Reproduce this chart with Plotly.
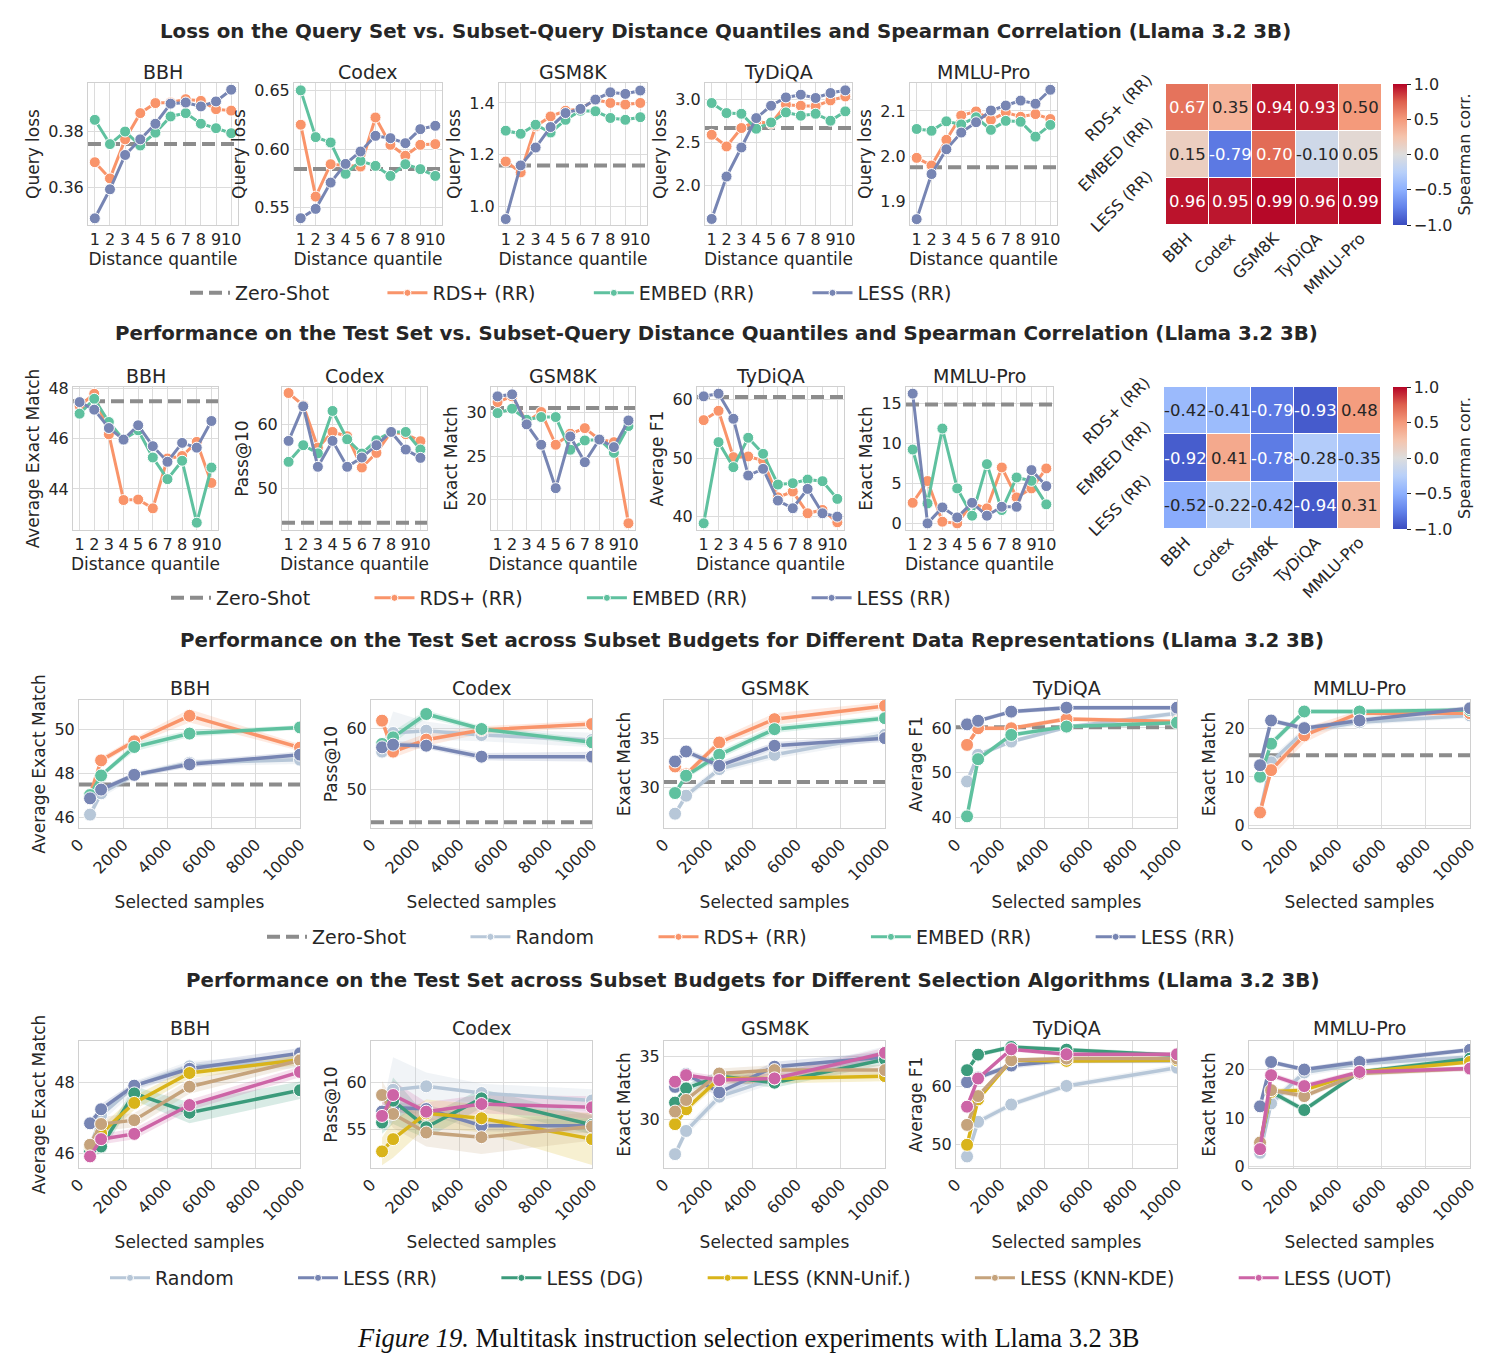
import plotly.graph_objects as go

W, H = 1500, 1369
FONT = "DejaVu Sans"
TXT = "#262626"
GRID = "#dcdcdc"
FRAME = "#d0d0d0"

TASKS = ["BBH", "Codex", "GSM8K", "TyDiQA", "MMLU-Pro"]
METHODS = ["RDS+ (RR)", "EMBED (RR)", "LESS (RR)"]
QUANTILES = [1, 2, 3, 4, 5, 6, 7, 8, 9, 10]
BUDGETS = [500, 1000, 2500, 5000, 10000]

# ---------------- Row 1: query loss vs distance quantile ----------------
loss_bbh_rds = [0.369, 0.3632, 0.3772, 0.3866, 0.3902, 0.3904, 0.3916, 0.391, 0.388, 0.3875]
loss_bbh_embed = [0.3842, 0.3755, 0.380, 0.375, 0.3796, 0.3854, 0.3866, 0.3828, 0.3812, 0.3794]
loss_bbh_less = [0.3489, 0.3593, 0.3716, 0.3772, 0.3828, 0.390, 0.3904, 0.389, 0.3908, 0.395]
loss_codex_rds = [0.6209, 0.5594, 0.5871, 0.5860, 0.5851, 0.6271, 0.6037, 0.5943, 0.6037, 0.6043]
loss_codex_embed = [0.6503, 0.6103, 0.6057, 0.5789, 0.590, 0.5857, 0.5771, 0.5871, 0.5829, 0.5771]
loss_codex_less = [0.5409, 0.5489, 0.5714, 0.5874, 0.598, 0.6114, 0.6094, 0.6051, 0.6171, 0.620]
loss_gsm_rds = [1.174, 1.132, 1.31, 1.348, 1.37, 1.377, 1.413, 1.40, 1.394, 1.40]
loss_gsm_embed = [1.293, 1.281, 1.316, 1.286, 1.335, 1.37, 1.368, 1.342, 1.335, 1.345]
loss_gsm_less = [0.952, 1.159, 1.228, 1.307, 1.361, 1.377, 1.413, 1.441, 1.435, 1.448]
loss_tydi_rds = [2.59, 2.453, 2.669, 2.747, 2.72, 2.943, 2.931, 2.925, 2.994, 3.04]
loss_tydi_embed = [2.963, 2.845, 2.837, 2.661, 2.735, 2.853, 2.814, 2.837, 2.755, 2.865]
loss_tydi_less = [1.602, 2.10, 2.441, 2.786, 2.931, 3.029, 3.061, 3.022, 3.08, 3.112]
loss_mmlu_rds = [1.996, 1.979, 2.036, 2.09, 2.099, 2.08, 2.097, 2.087, 2.093, 2.082]
loss_mmlu_embed = [2.06, 2.056, 2.077, 2.07, 2.086, 2.058, 2.078, 2.076, 2.043, 2.069]
loss_mmlu_less = [1.86, 1.96, 2.015, 2.052, 2.075, 2.101, 2.112, 2.123, 2.116, 2.147]
loss_zero_shot = [0.3755, 0.5831, 1.159, 2.669, 1.975]

corr_loss_rds = [0.67, 0.35, 0.94, 0.93, 0.50]
corr_loss_embed = [0.15, -0.79, 0.70, -0.10, 0.05]
corr_loss_less = [0.96, 0.95, 0.99, 0.96, 0.99]

# ---------------- Row 2: test performance vs distance quantile ----------------
perf_bbh_rds = [47.3, 47.78, 46.17, 43.56, 43.58, 43.23, 45.21, 45.31, 45.87, 44.24]
perf_bbh_embed = [46.99, 47.58, 46.66, 45.96, 46.33, 45.25, 44.39, 45.12, 42.66, 44.85]
perf_bbh_less = [47.45, 47.15, 46.42, 45.96, 46.53, 45.70, 45.08, 45.83, 45.64, 46.70]
perf_codex_rds = [64.95, 63.0, 56.4, 58.85, 58.18, 53.28, 55.57, 58.85, 58.5, 57.4]
perf_codex_embed = [54.17, 56.77, 55.5, 62.14, 57.7, 55.47, 57.55, 58.85, 58.85, 56.1]
perf_codex_less = [57.45, 62.86, 53.39, 57.45, 53.39, 54.84, 56.77, 58.85, 56.1, 54.79]
perf_gsm_rds = [31.18, 31.83, 28.9, 30.04, 26.3, 27.56, 28.2, 26.9, 26.6, 17.33]
perf_gsm_embed = [29.92, 30.42, 29.16, 29.47, 29.47, 25.73, 26.79, 26.9, 25.38, 28.44]
perf_gsm_less = [31.83, 32.06, 28.63, 26.3, 21.34, 27.25, 24.31, 26.9, 26.03, 29.08]
perf_tydi_rds = [56.5, 58.1, 50.17, 50.29, 49.6, 43.31, 44.29, 40.57, 41.14, 39.03]
perf_tydi_embed = [38.86, 52.74, 48.46, 53.49, 50.74, 45.49, 45.71, 46.34, 46.06, 43.03]
perf_tydi_less = [60.57, 61.03, 56.74, 47.03, 48.17, 42.74, 41.43, 44.74, 40.57, 40.0]
perf_mmlu_rds = [2.58, 5.3, 0.21, 0.0, 2.5, 1.88, 7.0, 3.25, 4.38, 6.88]
perf_mmlu_embed = [9.25, 2.5, 11.88, 4.38, 0.96, 7.42, 1.67, 5.75, 5.33, 2.38]
perf_mmlu_less = [16.25, 0.0, 2.0, 0.75, 2.58, 0.96, 2.08, 2.08, 6.67, 4.67]
perf_zero_shot = [47.48, 44.64, 30.5, 60.46, 14.88]

corr_perf_rds = [-0.42, -0.41, -0.79, -0.93, 0.48]
corr_perf_embed = [-0.92, 0.41, -0.78, -0.28, -0.35]
corr_perf_less = [-0.52, -0.22, -0.42, -0.94, 0.31]

# ---------------- Row 3: budgets, data representations ----------------
bud_bbh_rand = [46.11, 47.08, 47.9, 48.47, 48.61]
bud_bbh_rds = [47.0, 48.58, 49.45, 50.61, 49.16]
bud_bbh_embed = [47.0, 47.89, 49.19, 49.8, 50.08]
bud_bbh_less = [46.85, 47.25, 47.92, 48.4, 48.84]
bud_codex_rand = [56.2, 59.24, 59.62, 58.9, 58.1]
bud_codex_rds = [61.25, 56.2, 58.15, 59.73, 60.7]
bud_codex_embed = [57.45, 58.53, 62.34, 59.89, 57.72]
bud_codex_less = [56.9, 57.34, 57.17, 55.38, 55.38]
bud_gsm_rand = [27.28, 29.12, 31.84, 33.3, 35.34]
bud_gsm_rds = [32.11, 31.3, 34.56, 36.94, 38.3]
bud_gsm_embed = [29.39, 31.16, 33.3, 35.92, 37.04]
bud_gsm_less = [32.62, 33.64, 32.18, 34.22, 35.0]
bud_tydi_rand = [47.99, 53.96, 56.94, 60.15, 63.28]
bud_tydi_rds = [56.19, 59.93, 59.93, 62.01, 61.42]
bud_tydi_embed = [40.15, 52.99, 58.43, 60.3, 61.19]
bud_tydi_less = [60.8, 61.6, 63.66, 64.55, 64.55]
bud_mmlu_rand = [2.8, 13.0, 19.4, 21.2, 22.6]
bud_mmlu_rds = [2.71, 11.39, 18.5, 23.1, 23.05]
bud_mmlu_embed = [10.03, 16.8, 23.4, 23.4, 23.7]
bud_mmlu_less = [12.4, 21.56, 20.0, 21.56, 24.07]
bud_zero_shot = [47.48, 44.67, 30.51, 60.15, 14.44]

# confidence half-widths (row 3)
ci_bbh_rand = [0.2, 0.2, 0.15, 0.15, 0.2]
ci_bbh_rds = [0.1, 0.15, 0.15, 0.3, 0.15]
ci_bbh_embed = [0.1, 0.1, 0.2, 0.15, 0.1]
ci_bbh_less = [0.1, 0.15, 0.1, 0.15, 0.15]
ci_codex_rand = [1.0, 3.5, 1.5, 1.0, 1.2]
ci_codex_rds = [0.6, 1.0, 1.0, 0.6, 0.6]
ci_codex_embed = [0.6, 1.0, 0.6, 0.5, 0.6]
ci_codex_less = [0.6, 0.6, 0.5, 0.6, 0.8]
ci_gsm_rand = [0.3, 0.4, 0.4, 0.4, 0.5]
ci_gsm_rds = [0.3, 0.3, 0.4, 0.6, 0.4]
ci_gsm_embed = [0.3, 0.3, 0.4, 0.4, 0.3]
ci_gsm_less = [0.3, 0.3, 0.4, 0.4, 0.4]
ci_tydi_rand = [0.6, 0.6, 0.5, 0.5, 0.6]
ci_tydi_rds = [0.5, 0.5, 0.5, 0.5, 0.5]
ci_tydi_embed = [0.6, 0.6, 0.5, 0.5, 0.5]
ci_tydi_less = [0.5, 0.5, 0.5, 0.5, 0.5]
ci_mmlu_rand = [0.5, 1.0, 0.8, 0.6, 0.6]
ci_mmlu_rds = [0.5, 1.5, 1.5, 0.6, 0.6]
ci_mmlu_embed = [0.5, 0.8, 0.5, 0.5, 0.5]
ci_mmlu_less = [0.5, 0.5, 0.5, 0.6, 0.5]

# ---------------- Row 4: budgets, selection algorithms ----------------
alg_bbh_dg = [46.05, 46.19, 47.7, 47.15, 47.79]
alg_bbh_unif = [46.2, 46.57, 47.43, 48.28, 48.66]
alg_bbh_kde = [46.24, 46.83, 46.94, 47.89, 48.64]
alg_bbh_uot = [45.91, 46.4, 46.55, 47.37, 48.31]
alg_codex_dg = [55.71, 58.07, 55.21, 58.32, 55.46]
alg_codex_unif = [52.61, 53.93, 56.71, 56.18, 53.93]
alg_codex_kde = [58.68, 56.64, 54.64, 54.14, 55.29]
alg_codex_uot = [56.43, 58.68, 56.89, 57.71, 57.36]
alg_gsm_dg = [31.37, 32.5, 33.47, 32.95, 34.79]
alg_gsm_unif = [29.66, 30.84, 33.29, 33.29, 33.47]
alg_gsm_kde = [30.66, 31.58, 33.68, 33.95, 33.95]
alg_gsm_uot = [33.03, 33.55, 33.16, 33.29, 35.32]
alg_tydi_dg = [62.86, 65.54, 66.86, 66.4, 65.43]
alg_tydi_unif = [50.0, 57.83, 64.57, 64.46, 64.57]
alg_tydi_kde = [53.43, 58.4, 64.57, 64.86, 64.86]
alg_tydi_uot = [56.57, 61.43, 66.46, 65.6, 65.6]
alg_mmlu_dg = [4.5, 15.4, 11.64, 19.5, 22.26]
alg_mmlu_unif = [4.8, 15.4, 15.75, 19.5, 21.58]
alg_mmlu_kde = [4.93, 15.75, 14.52, 19.18, 20.2]
alg_mmlu_uot = [3.56, 18.84, 16.58, 19.5, 20.2]

ci_bbh_dg = [0.15, 0.2, 0.2, 0.3, 0.25]
ci_bbh_unif = [0.15, 0.2, 0.2, 0.15, 0.15]
ci_bbh_kde = [0.15, 0.2, 0.2, 0.2, 0.15]
ci_bbh_uot = [0.1, 0.15, 0.15, 0.15, 0.15]
ci_codex_dg = [1.2, 2.5, 1.2, 1.0, 1.0]
ci_codex_unif = [1.5, 2.0, 1.5, 1.5, 2.8]
ci_codex_kde = [1.5, 1.5, 1.5, 1.8, 1.5]
ci_codex_uot = [1.5, 1.5, 1.0, 1.0, 1.2]
ci_gsm_dg = [0.3, 0.3, 0.4, 0.4, 0.4]
ci_gsm_unif = [0.3, 0.3, 0.4, 0.4, 0.4]
ci_gsm_kde = [0.3, 0.3, 0.4, 0.4, 0.4]
ci_gsm_uot = [0.3, 0.3, 0.3, 0.4, 0.4]
ci_tydi_dg = [0.4, 0.4, 0.4, 0.4, 0.4]
ci_tydi_unif = [0.5, 0.5, 0.4, 0.4, 0.4]
ci_tydi_kde = [0.5, 0.5, 0.4, 0.4, 0.4]
ci_tydi_uot = [0.5, 0.4, 0.4, 0.4, 0.4]
ci_mmlu_dg = [0.5, 0.6, 0.6, 0.5, 0.5]
ci_mmlu_unif = [0.5, 0.6, 0.6, 0.5, 0.5]
ci_mmlu_kde = [0.5, 0.6, 0.6, 0.5, 0.5]
ci_mmlu_uot = [0.5, 0.6, 0.6, 0.5, 0.5]

# ---------------- styles ----------------
C_RDS = "#f9946a"
C_EMBED = "#5fc19f"
C_LESS = "#7785b3"
C_RAND = "#b7c7d8"
C_DG = "#3b9b7b"
C_UNIF = "#d9b41a"
C_KDE = "#c5a37c"
C_UOT = "#cd64a6"
C_ZS = "#8c8c8c"
ZS_DASH = "13px,6px"

COOLWARM = [[0.0, "#3b4cc0"], [0.125, "#6282ea"], [0.25, "#8db0fe"], [0.375, "#b8d0f9"],
            [0.5, "#dddddd"], [0.625, "#f5c4ad"], [0.75, "#f49a7b"], [0.875, "#de604d"],
            [1.0, "#b40426"]]


def rgba(hexc, a):
    r, g, b = int(hexc[1:3], 16), int(hexc[3:5], 16), int(hexc[5:7], 16)
    return f"rgba({r},{g},{b},{a})"


layout = {}
traces = []
annotations = []
counter = [0]


def dom_x(a, b):
    return [a / W, b / W]


def dom_y(top, bottom):
    return [1 - bottom / H, 1 - top / H]


def axis_style(**kw):
    d = dict(showgrid=True, gridcolor=GRID, gridwidth=1, zeroline=False, showline=True,
             mirror=True, linecolor=FRAME, linewidth=1, ticks="",
             tickfont=dict(size=16, color=TXT, family=FONT))
    d.update(kw)
    return d


def new_axes(xbox, ybox, xopts, yopts):
    counter[0] += 1
    n = counter[0]
    s = "" if n == 1 else str(n)
    layout["xaxis" + s] = dict(domain=dom_x(*xbox), anchor="y" + s, **xopts)
    layout["yaxis" + s] = dict(domain=dom_y(*ybox), anchor="x" + s, **yopts)
    return "x" + s, "y" + s


def paper_text(text, xpx, ypx, size, bold=False, family=FONT, color=TXT):
    annotations.append(dict(text=f"<b>{text}</b>" if bold else text, x=xpx / W, y=1 - ypx / H,
                            xref="paper", yref="paper", xanchor="center", yanchor="middle",
                            showarrow=False, font=dict(size=size, family=family, color=color)))


def line_panel(xbox, ybox, title_y, title, xvals, series, zero, xr, yr, ytv, ytf, ytitle,
               xtitle, xtv, xtt, xta, msize, lw, xstand):
    xa, ya = new_axes(
        xbox, ybox,
        axis_style(range=xr, tickvals=xtv, ticktext=xtt, tickangle=xta,
                   title=dict(text=xtitle, font=dict(size=17, color=TXT, family=FONT), standoff=xstand)),
        axis_style(range=yr, tickvals=ytv, tickformat=ytf,
                   title=dict(text=ytitle, font=dict(size=17, color=TXT, family=FONT), standoff=4)))
    paper_text(title, (xbox[0] + xbox[1]) / 2, title_y, 19)
    if zero is not None:
        traces.append(go.Scatter(x=list(xr), y=[zero, zero], mode="lines", name="Zero-Shot",
                                 line=dict(color=C_ZS, width=4, dash=ZS_DASH), xaxis=xa, yaxis=ya,
                                 showlegend=False, hoverinfo="skip"))
    for name, vals, color, ci in series:
        if ci is not None:
            traces.append(go.Scatter(x=xvals, y=[v + c for v, c in zip(vals, ci)], mode="lines",
                                     line=dict(width=0, color=color), xaxis=xa, yaxis=ya,
                                     showlegend=False, hoverinfo="skip"))
            traces.append(go.Scatter(x=xvals, y=[v - c for v, c in zip(vals, ci)], mode="lines",
                                     line=dict(width=0, color=color), fill="tonexty",
                                     fillcolor=rgba(color, 0.2), xaxis=xa, yaxis=ya,
                                     showlegend=False, hoverinfo="skip"))
    for name, vals, color, ci in series:
        traces.append(go.Scatter(x=xvals, y=vals, mode="lines+markers", name=name,
                                 line=dict(color=color, width=lw),
                                 marker=dict(size=msize, color=color, line=dict(color="white", width=1)),
                                 xaxis=xa, yaxis=ya, showlegend=False))


def heat_panel(xbox, ybox, rows, cb_top, cb_bottom):
    cols_idx = list(range(len(TASKS)))
    rows_idx = list(range(len(METHODS)))
    xa, ya = new_axes(
        xbox, ybox,
        dict(range=[-0.5, len(TASKS) - 0.5], tickvals=cols_idx, ticktext=TASKS, showgrid=False,
             zeroline=False, showline=False, ticks="", tickangle=-45,
             tickfont=dict(size=16, color=TXT, family=FONT)),
        dict(range=[len(METHODS) - 0.5, -0.5], tickvals=rows_idx, showticklabels=False,
             showgrid=False, zeroline=False, showline=False, ticks=""))
    traces.append(go.Heatmap(
        z=rows, x=cols_idx, y=rows_idx, xaxis=xa, yaxis=ya, colorscale=COOLWARM, zmin=-1, zmax=1,
        xgap=1, ygap=1, hoverinfo="skip",
        colorbar=dict(x=1393 / W, xanchor="left", xpad=0, ypad=0,
                      y=1 - (cb_top + cb_bottom) / 2 / H, yanchor="middle",
                      len=(cb_bottom - cb_top) / H, lenmode="fraction", thickness=14,
                      outlinewidth=0, tickvals=[-1, -0.5, 0, 0.5, 1],
                      ticktext=["\u22121.0", "\u22120.5", "0.0", "0.5", "1.0"], ticks="outside",
                      ticklen=4, tickcolor=TXT, tickfont=dict(size=16, color=TXT, family=FONT),
                      title=dict(text="Spearman corr.", side="right",
                                 font=dict(size=16, color=TXT, family=FONT)))))
    # row labels, rotated 45 degrees, right edge next to the heatmap, centred on each row
    for i in rows_idx:
        annotations.append(dict(x=(xbox[0] - 7) / W, xref="paper", y=i, yref=ya, text=METHODS[i],
                                textangle=-45, xanchor="right", yanchor="middle", showarrow=False,
                                font=dict(size=16, color=TXT, family=FONT)))
    for i in rows_idx:
        for j in cols_idx:
            v = rows[i][j]
            annotations.append(dict(x=j, y=i, xref=xa, yref=ya, text=f"{v:.2f}", showarrow=False,
                                    font=dict(size=16.5, family=FONT,
                                              color="white" if abs(v) > 0.6 else TXT)))


# ---------------- Row 1 ----------------
R1_X = [(88, 238), (294, 442), (499, 647), (705, 852), (910, 1057)]
R1_Y = (83, 225)
loss_rds = [loss_bbh_rds, loss_codex_rds, loss_gsm_rds, loss_tydi_rds, loss_mmlu_rds]
loss_embed = [loss_bbh_embed, loss_codex_embed, loss_gsm_embed, loss_tydi_embed, loss_mmlu_embed]
loss_less = [loss_bbh_less, loss_codex_less, loss_gsm_less, loss_tydi_less, loss_mmlu_less]
R1_YR = [[0.3465, 0.3974], [0.5351, 0.6566], [0.929, 1.477], [1.531, 3.198], [1.847, 2.162]]
R1_TV = [[0.36, 0.38], [0.55, 0.60, 0.65], [1.0, 1.2, 1.4], [2.0, 2.5, 3.0], [1.9, 2.0, 2.1]]
R1_TF = [".2f", ".2f", ".1f", ".1f", ".1f"]
Q_TEXT = [str(q) for q in QUANTILES]
for k in range(5):
    line_panel(R1_X[k], R1_Y, 72, TASKS[k], QUANTILES,
               [("RDS+ (RR)", loss_rds[k], C_RDS, None), ("EMBED (RR)", loss_embed[k], C_EMBED, None),
                ("LESS (RR)", loss_less[k], C_LESS, None)],
               loss_zero_shot[k], [0.55, 10.45], R1_YR[k], R1_TV[k], R1_TF[k], "Query loss",
               "Distance quantile", QUANTILES, Q_TEXT, 0, 11, 3, 2)
heat_panel((1166, 1382), (84, 225), [corr_loss_rds, corr_loss_embed, corr_loss_less], 84, 225)

# ---------------- Row 2 ----------------
R2_X = [(73, 218), (282, 427), (491, 635), (697, 844), (906, 1053)]
R2_Y = (387, 530)
perf_rds = [perf_bbh_rds, perf_codex_rds, perf_gsm_rds, perf_tydi_rds, perf_mmlu_rds]
perf_embed = [perf_bbh_embed, perf_codex_embed, perf_gsm_embed, perf_tydi_embed, perf_mmlu_embed]
perf_less = [perf_bbh_less, perf_codex_less, perf_gsm_less, perf_tydi_less, perf_mmlu_less]
R2_YR = [[42.37, 48.05], [43.49, 65.89], [16.56, 32.9], [37.71, 62.17], [-0.83, 17.08]]
R2_TV = [[44, 46, 48], [50, 60], [20, 25, 30], [40, 50, 60], [0, 5, 10, 15]]
METRICS = ["Average Exact Match", "Pass@10", "Exact Match", "Average F1", "Exact Match"]
for k in range(5):
    line_panel(R2_X[k], R2_Y, 376, TASKS[k], QUANTILES,
               [("RDS+ (RR)", perf_rds[k], C_RDS, None), ("EMBED (RR)", perf_embed[k], C_EMBED, None),
                ("LESS (RR)", perf_less[k], C_LESS, None)],
               perf_zero_shot[k], [0.55, 10.45], R2_YR[k], R2_TV[k], "d", METRICS[k],
               "Distance quantile", QUANTILES, Q_TEXT, 0, 11, 3, 2)
heat_panel((1164, 1381), (387, 529), [corr_perf_rds, corr_perf_embed, corr_perf_less], 387, 529)

# ---------------- Row 3 ----------------
R34_X = [(79, 300), (371, 592), (664, 885), (956, 1177), (1249, 1470)]
R3_Y = (700, 828)
bud_rand = [bud_bbh_rand, bud_codex_rand, bud_gsm_rand, bud_tydi_rand, bud_mmlu_rand]
bud_rds = [bud_bbh_rds, bud_codex_rds, bud_gsm_rds, bud_tydi_rds, bud_mmlu_rds]
bud_embed = [bud_bbh_embed, bud_codex_embed, bud_gsm_embed, bud_tydi_embed, bud_mmlu_embed]
bud_less = [bud_bbh_less, bud_codex_less, bud_gsm_less, bud_tydi_less, bud_mmlu_less]
ci_rand = [ci_bbh_rand, ci_codex_rand, ci_gsm_rand, ci_tydi_rand, ci_mmlu_rand]
ci_rds = [ci_bbh_rds, ci_codex_rds, ci_gsm_rds, ci_tydi_rds, ci_mmlu_rds]
ci_embed = [ci_bbh_embed, ci_codex_embed, ci_gsm_embed, ci_tydi_embed, ci_mmlu_embed]
ci_less = [ci_bbh_less, ci_codex_less, ci_gsm_less, ci_tydi_less, ci_mmlu_less]
R3_YR = [[45.5, 51.33], [43.75, 64.62], [25.82, 38.9], [37.54, 66.27], [-0.47, 25.76]]
R3_TV = [[46, 48, 50], [50, 60], [30, 35], [40, 50, 60], [0, 10, 20]]
BUD_TICKS = [0, 2000, 4000, 6000, 8000, 10000]
BUD_TEXT = [str(t) for t in BUD_TICKS]
for k in range(5):
    line_panel(R34_X[k], R3_Y, 688, TASKS[k], BUDGETS,
               [("Random", bud_rand[k], C_RAND, ci_rand[k]), ("RDS+ (RR)", bud_rds[k], C_RDS, ci_rds[k]),
                ("EMBED (RR)", bud_embed[k], C_EMBED, ci_embed[k]),
                ("LESS (RR)", bud_less[k], C_LESS, ci_less[k])],
               bud_zero_shot[k], [0, 10000], R3_YR[k], R3_TV[k], "d", METRICS[k],
               "Selected samples", BUD_TICKS, BUD_TEXT, -45, 13, 3.5, 12)

# ---------------- Row 4 ----------------
R4_Y = (1041, 1168)
alg_dg = [alg_bbh_dg, alg_codex_dg, alg_gsm_dg, alg_tydi_dg, alg_mmlu_dg]
alg_unif = [alg_bbh_unif, alg_codex_unif, alg_gsm_unif, alg_tydi_unif, alg_mmlu_unif]
alg_kde = [alg_bbh_kde, alg_codex_kde, alg_gsm_kde, alg_tydi_kde, alg_mmlu_kde]
alg_uot = [alg_bbh_uot, alg_codex_uot, alg_gsm_uot, alg_tydi_uot, alg_mmlu_uot]
ci_dg = [ci_bbh_dg, ci_codex_dg, ci_gsm_dg, ci_tydi_dg, ci_mmlu_dg]
ci_unif = [ci_bbh_unif, ci_codex_unif, ci_gsm_unif, ci_tydi_unif, ci_mmlu_unif]
ci_kde = [ci_bbh_kde, ci_codex_kde, ci_gsm_kde, ci_tydi_kde, ci_mmlu_kde]
ci_uot = [ci_bbh_uot, ci_codex_uot, ci_gsm_uot, ci_tydi_uot, ci_mmlu_uot]
R4_YR = [[45.58, 49.19], [50.82, 64.5], [26.18, 36.26], [46.0, 67.89], [-0.34, 25.9]]
R4_TV = [[46, 48], [55, 60], [30, 35], [50, 60], [0, 10, 20]]
for k in range(5):
    line_panel(R34_X[k], R4_Y, 1028, TASKS[k], BUDGETS,
               [("Random", bud_rand[k], C_RAND, ci_rand[k]), ("LESS (RR)", bud_less[k], C_LESS, ci_less[k]),
                ("LESS (DG)", alg_dg[k], C_DG, ci_dg[k]),
                ("LESS (KNN-Unif.)", alg_unif[k], C_UNIF, ci_unif[k]),
                ("LESS (KNN-KDE)", alg_kde[k], C_KDE, ci_kde[k]),
                ("LESS (UOT)", alg_uot[k], C_UOT, ci_uot[k])],
               None, [0, 10000], R4_YR[k], R4_TV[k], "d", METRICS[k],
               "Selected samples", BUD_TICKS, BUD_TEXT, -45, 13, 3.5, 12)

# ---------------- Legends (legend-only entries) ----------------
LEGEND_PAD = {"legend": 8, "legend2": 9, "legend3": 9, "legend4": 9}


def legend_entry(name, color, legend, dashed=False, last=False):
    label = name if last else name + "\u00a0" * LEGEND_PAD[legend]
    if dashed:
        traces.append(go.Scatter(x=[None], y=[None], mode="lines", name=label, legend=legend,
                                 line=dict(color=color, width=4, dash=ZS_DASH), xaxis="x", yaxis="y"))
    else:
        traces.append(go.Scatter(x=[None], y=[None], mode="lines+markers", name=label, legend=legend,
                                 line=dict(color=color, width=3),
                                 marker=dict(size=7, color=color, line=dict(color="white", width=1)),
                                 xaxis="x", yaxis="y"))


for lg in ["legend", "legend2"]:
    legend_entry("Zero-Shot", C_ZS, lg, dashed=True)
    legend_entry("RDS+ (RR)", C_RDS, lg)
    legend_entry("EMBED (RR)", C_EMBED, lg)
    legend_entry("LESS (RR)", C_LESS, lg, last=True)
legend_entry("Zero-Shot", C_ZS, "legend3", dashed=True)
legend_entry("Random", C_RAND, "legend3")
legend_entry("RDS+ (RR)", C_RDS, "legend3")
legend_entry("EMBED (RR)", C_EMBED, "legend3")
legend_entry("LESS (RR)", C_LESS, "legend3", last=True)
legend_entry("Random", C_RAND, "legend4")
legend_entry("LESS (RR)", C_LESS, "legend4")
legend_entry("LESS (DG)", C_DG, "legend4")
legend_entry("LESS (KNN-Unif.)", C_UNIF, "legend4")
legend_entry("LESS (KNN-KDE)", C_KDE, "legend4")
legend_entry("LESS (UOT)", C_UOT, "legend4", last=True)


def legend_box(xc, yc):
    return dict(orientation="h", x=xc / W, xanchor="center", y=1 - yc / H, yanchor="middle",
                font=dict(size=19, color=TXT, family=FONT), bgcolor="rgba(0,0,0,0)",
                itemwidth=40, traceorder="normal")


layout["legend"] = legend_box(571, 293)
layout["legend2"] = legend_box(561, 598)
layout["legend3"] = legend_box(751, 937)
layout["legend4"] = legend_box(751, 1278)

# ---------------- Titles & caption ----------------
paper_text("Loss on the Query Set vs. Subset-Query Distance Quantiles and Spearman Correlation (Llama 3.2 3B)",
           725, 32, 19.8, bold=True)
paper_text("Performance on the Test Set vs. Subset-Query Distance Quantiles and Spearman Correlation (Llama 3.2 3B)",
           716, 334, 19.8, bold=True)
paper_text("Performance on the Test Set across Subset Budgets for Different Data Representations (Llama 3.2 3B)",
           752, 640, 19.8, bold=True)
paper_text("Performance on the Test Set across Subset Budgets for Different Selection Algorithms (Llama 3.2 3B)",
           752, 980, 19.8, bold=True)
paper_text("<i>Figure 19.</i> Multitask instruction selection experiments with Llama 3.2 3B",
           748, 1338, 26.5, family="Liberation Serif", color="#111111")

fig = go.Figure(data=traces)
fig.update_layout(width=W, height=H, margin=dict(l=0, r=0, t=0, b=0, pad=0, autoexpand=False),
                  paper_bgcolor="white", plot_bgcolor="white", font=dict(family=FONT, color=TXT),
                  showlegend=True, annotations=annotations, **layout)
fig.write_html("out.html", config={"displayModeBar": False})
